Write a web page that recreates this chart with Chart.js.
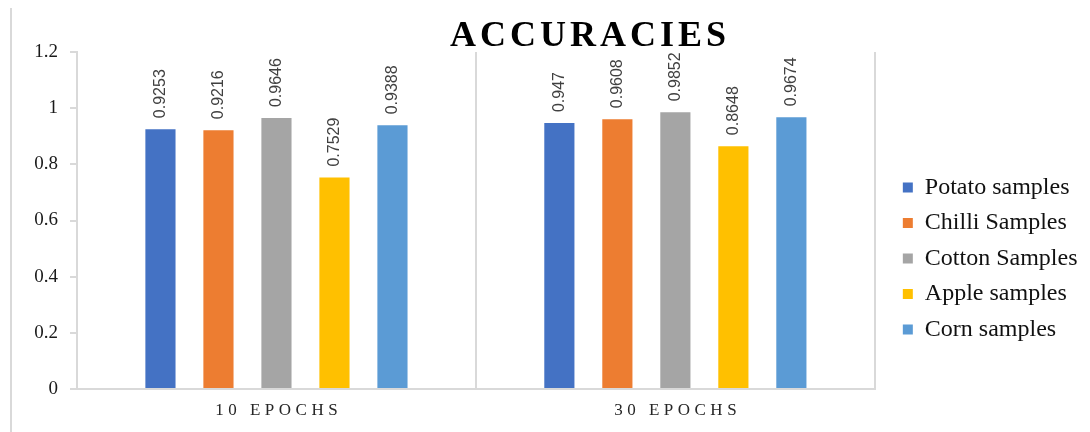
<!DOCTYPE html>
<html>
<head>
<meta charset="utf-8">
<script src="https://cdn.jsdelivr.net/npm/chart.js@4.4.0/dist/chart.umd.min.js"></script>
<style>
  html, body { margin: 0; padding: 0; background: #fff; }
  #wrap { width: 1090px; height: 432px; }
</style>
</head>
<body>
<div id="wrap"><canvas id="accChart" width="1090" height="432"></canvas></div>
<script>
// categories and series
const epochLabels = ['10 EPOCHS', '30 EPOCHS'];
const seriesNames = ['Potato samples', 'Chilli Samples', 'Cotton Samples', 'Apple samples', 'Corn samples'];
const potatoAcc = [0.9253, 0.947];
const chilliAcc = [0.9216, 0.9608];
const cottonAcc = [0.9646, 0.9852];
const appleAcc = [0.7529, 0.8648];
const cornAcc = [0.9388, 0.9674];
const yTickValues = [0, 0.2, 0.4, 0.6, 0.8, 1, 1.2];

const barColors = ['#4472C4', '#ED7D31', '#A5A5A5', '#FFC000', '#5B9BD5'];
const gridGray = '#d9d9d9';
const serif = '"Liberation Serif", "Times New Roman", serif';

const seriesValues = [potatoAcc, chilliAcc, cottonAcc, appleAcc, cornAcc];
const datasets = seriesNames.map((name, i) => ({
    label: name,
    data: seriesValues[i],
    backgroundColor: barColors[i],
    borderWidth: 0,
    barPercentage: 0.52,
    categoryPercentage: 0.727
}));

// extra drawing: frame line, title, spaced category labels, rotated value labels
const chartExtras = {
    id: 'chartExtras',
    afterLayout(chart) {
        // move the legend block a bit right and down
        const lg = chart.legend;
        lg.left += 16.5; lg.right += 16.5;
        lg.top += 38; lg.bottom += 38;
    },
    beforeDraw(chart) {
        const ctx = chart.ctx;
        ctx.save();
        ctx.strokeStyle = gridGray;
        ctx.lineWidth = 2;
        ctx.beginPath();
        ctx.moveTo(11, 8);
        ctx.lineTo(11, 432);
        ctx.stroke();
        ctx.restore();
    },
    afterDatasetsDraw(chart) {
        const ctx = chart.ctx;
        ctx.save();
        ctx.font = '16px "Liberation Sans", Arial, sans-serif';
        ctx.fillStyle = '#404040';
        ctx.textAlign = 'left';
        ctx.textBaseline = 'middle';
        chart.data.datasets.forEach((ds, di) => {
            const meta = chart.getDatasetMeta(di);
            meta.data.forEach((bar, i) => {
                ctx.save();
                ctx.translate(bar.x, bar.y - 11);
                ctx.rotate(-Math.PI / 2);
                ctx.fillText(String(ds.data[i]), 0, 0);
                ctx.restore();
            });
        });
        ctx.restore();
    },
    afterDraw(chart) {
        const ctx = chart.ctx;
        ctx.save();
        // title
        ctx.font = 'bold 36px ' + serif;
        ctx.letterSpacing = '4px';
        ctx.fillStyle = '#000';
        ctx.textAlign = 'left';
        ctx.textBaseline = 'alphabetic';
        const title = 'ACCURACIES';
        const tw = ctx.measureText(title).width - 4;
        ctx.fillText(title, 588 - tw / 2, 46);

        // category labels under the x axis
        ctx.font = '17px ' + serif;
        ctx.letterSpacing = '4.5px';
        ctx.fillStyle = '#262626';
        ctx.textBaseline = 'middle';
        const xScale = chart.scales.x;
        epochLabels.forEach((lab, i) => {
            const w = ctx.measureText(lab).width - 4.5;
            ctx.fillText(lab, xScale.getPixelForValue(i) - w / 2, 411);
        });
        ctx.restore();
    }
};

new Chart(document.getElementById('accChart'), {
    type: 'bar',
    data: { labels: epochLabels, datasets: datasets },
    plugins: [chartExtras],
    options: {
        responsive: false,
        animation: false,
        devicePixelRatio: 1,
        layout: { padding: { left: 17, top: 52, right: 19, bottom: 43 } },
        plugins: {
            title: { display: false },
            tooltip: { enabled: false },
            legend: {
                position: 'right',
                align: 'center',
                labels: {
                    boxWidth: 10,
                    boxHeight: 10,
                    padding: 11.5,
                    color: '#111',
                    font: { family: serif, size: 24 }
                }
            }
        },
        scales: {
            x: {
                grid: {
                    display: true,
                    offset: true,
                    drawOnChartArea: true,
                    drawTicks: false,
                    color: gridGray,
                    lineWidth: 2
                },
                border: { display: true, color: gridGray, width: 2 },
                ticks: { display: false }
            },
            y: {
                min: 0,
                max: 1.2,
                afterBuildTicks: scale => {
                    scale.ticks = yTickValues.map(v => ({ value: v }));
                },
                afterFit: scale => { scale.width = 60; },
                grid: {
                    display: true,
                    drawOnChartArea: false,
                    drawTicks: true,
                    tickLength: 7,
                    color: gridGray,
                    lineWidth: 2
                },
                border: { display: true, color: gridGray, width: 2 },
                ticks: {
                    padding: 12,
                    color: '#1a1a1a',
                    font: { family: serif, size: 19 },
                    callback: v => String(v)
                }
            }
        }
    }
});
</script>
</body>
</html>
